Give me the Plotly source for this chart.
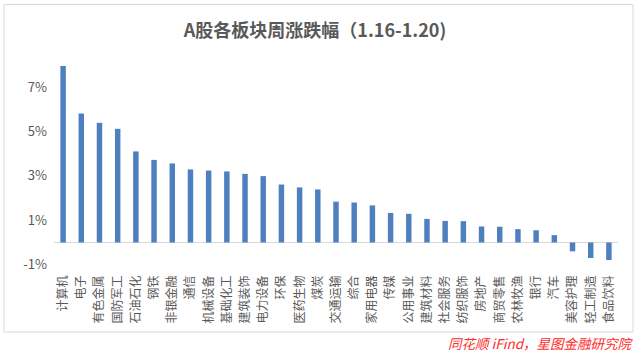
import plotly.graph_objects as go

categories = ["计算机", "电子", "有色金属", "国防军工", "石油石化", "钢铁", "非银金融", "通信",
              "机械设备", "基础化工", "建筑装饰", "电力设备", "环保", "医药生物", "煤炭", "交通运输",
              "综合", "家用电器", "传媒", "公用事业", "建筑材料", "社会服务", "纺织服饰", "房地产",
              "商贸零售", "农林牧渔", "银行", "汽车", "美容护理", "轻工制造", "食品饮料"]
values = [7.95, 5.81, 5.39, 5.12, 4.10, 3.72, 3.56, 3.29,
          3.24, 3.20, 3.09, 2.99, 2.61, 2.48, 2.39, 1.84,
          1.80, 1.67, 1.33, 1.29, 1.06, 0.97, 0.96, 0.72,
          0.71, 0.60, 0.55, 0.33, -0.40, -0.70, -0.79]
tick_vals = [-1, 1, 3, 5, 7]
tick_text = ["-1%", "1%", "3%", "5%", "7%"]

W, H = 640, 352
ml, mr, mt, mb = 54, 22, 60, 84
pw, ph = W - ml - mr, H - mt - mb

def px_x(x):
    return (x - ml) / pw

def px_y(y):
    return (H - mb - y) / ph

fig = go.Figure(go.Bar(x=categories, y=values, marker=dict(color="#4E7FBF", line=dict(width=0)),
                       width=0.3))

fig.update_layout(
    width=W, height=H,
    margin=dict(l=ml, r=mr, t=mt, b=mb),
    paper_bgcolor="white", plot_bgcolor="white",
    showlegend=False,
    font=dict(family="Noto Sans CJK SC, sans-serif", color="#595959"),
    title=dict(text="<b>A股各板块周涨跌幅（1.16-1.20)</b>", x=315 / W, xanchor="center",
               y=1 - 31 / H, yanchor="middle", font=dict(size=18, color="#595959")),
    xaxis=dict(tickangle=-90, tickfont=dict(size=12, color="#595959"), showline=False,
               showgrid=False, ticks="", ticklen=0, ticklabelstandoff=4,
               range=[-0.5, len(categories) - 0.5]),
    yaxis=dict(range=[-1.15, 8.22], tickvals=tick_vals, ticktext=tick_text, showgrid=False,
               zeroline=True, zerolinecolor="#D9D9D9", zerolinewidth=1, showline=False,
               tickfont=dict(size=13, color="#595959"), ticks="", ticklabelstandoff=6),
    shapes=[dict(type="rect", xref="paper", yref="paper",
                 x0=px_x(4), x1=px_x(633), y0=px_y(332), y1=px_y(4.5),
                 line=dict(color="#D9D9D9", width=1), fillcolor="rgba(0,0,0,0)", layer="below")],
    annotations=[dict(text="<i>同花顺 iFind，星图金融研究院</i>", xref="paper", yref="paper",
                      x=px_x(636), y=px_y(343), xanchor="right", yanchor="middle",
                      showarrow=False, font=dict(size=13.5, color="#FF2A2A"))],
)

fig.write_html("out.html")
